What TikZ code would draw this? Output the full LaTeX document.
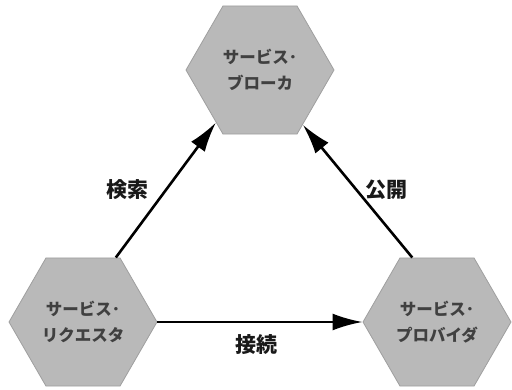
\documentclass[tikz,border=0pt]{standalone}
\usepackage{fontspec}
\newfontfamily\jp{Noto Sans CJK JP}
\usetikzlibrary{shapes.geometric,arrows.meta}
\begin{document}
\begin{tikzpicture}[x=1pt,y=-1pt,
  hexa/.style={regular polygon,regular polygon sides=6,minimum size=148pt,
    fill=gray!55,draw=gray!75,line width=0.8pt,inner sep=0pt,
    font=\jp\bfseries\fontsize{16.5}{26}\selectfont,text=black!75,align=center},
  conn/.style={line width=2.6pt,-{Latex[length=30pt,width=17pt]}},
  lbl/.style={font=\jp\bfseries\fontsize{21}{24}\selectfont,text=black!90}]
\useasboundingbox (0,0) rectangle (512,390);
\node[hexa] (T) at (260,70) {サービス･\\ブローカ};
\node[hexa] (L) at (83,322) {サービス･\\リクエスタ};
\node[hexa] (R) at (437,322) {サービス･\\プロバイダ};
\draw[conn] (L.63) -- (T.230);
\draw[conn] (R.111) -- (T.308);
\draw[conn] (L.0) -- (R.180);
\node[lbl] (s) at (127,190) {検索};
\node[lbl] (p) at (386,190) {公開};
\node[lbl] (c) at (256,345) {接続};
\end{tikzpicture}
\end{document}
